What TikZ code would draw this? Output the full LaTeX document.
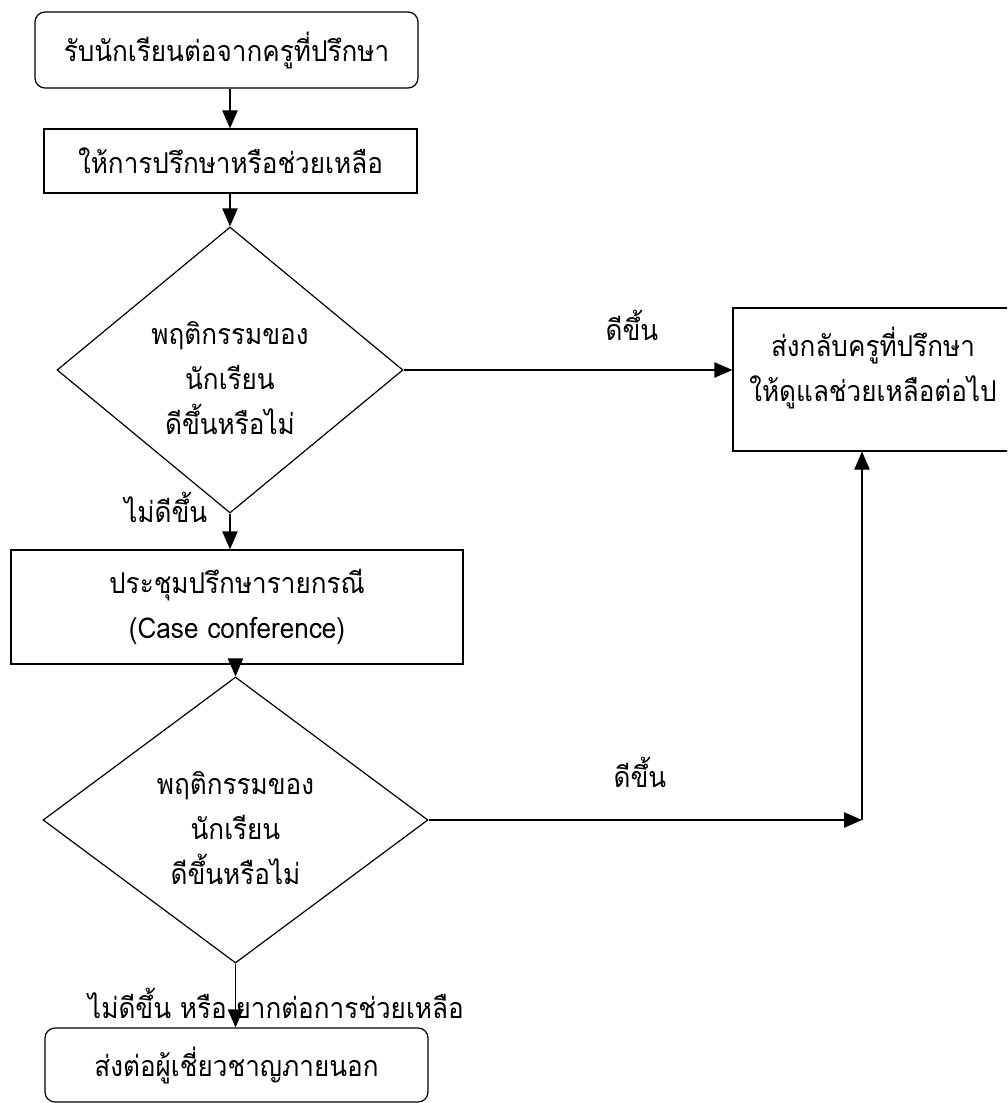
\documentclass[tikz,border=0pt]{standalone}
\usepackage{fontspec}
\newfontfamily\thaifont[Script=Thai,FakeStretch=0.91]{Loma}
\usetikzlibrary{shapes.geometric,arrows.meta}

\begin{document}
\begin{tikzpicture}[x=0.75pt,y=-0.75pt]
    \tikzstyle{every node}=[font={\thaifont\fontsize{21.5}{33.75}\selectfont}]
    \tikzstyle{box}=[draw, line width=0.9pt, align=center]
    \tikzstyle{decision}=[draw, line width=0.9pt, diamond, align=center, inner sep=0pt]
    \tikzstyle{arr}=[line width=0.9pt, -{Triangle[length=13.5pt,width=11.5pt]}]
    \path[use as bounding box, clip] (0,0) rectangle (1007,1103);

    \node[box, rounded corners=7.5pt, minimum width=287.25pt, minimum height=57pt] (start) at (226.5,50) {รับนักเรียนต่อจากครูที่ปรึกษา};
    \node[box, minimum width=279.75pt, minimum height=48pt] (consult) at (230.5,161) {ให้การปรึกษาหรือช่วยเหลือ};
    \node[decision, minimum width=259.5pt, minimum height=212.25pt] (check1) at (230,370) {\rule{0pt}{29pt}พฤติกรรมของ\\นักเรียน\\ดีขึ้นหรือไม่};
    \node[box, minimum width=210pt, minimum height=107.25pt] (back) at (873,379.5) {ส่งกลับครูที่ปรึกษา\\ให้ดูแลช่วยเหลือต่อไป\rule[-23pt]{0pt}{0pt}};
    \node[box, minimum width=339pt, minimum height=85.5pt] (conf) at (237,607) {ประชุมปรึกษารายกรณี\\(Case conference)};
    \node[decision, minimum width=288.75pt, minimum height=205.5pt] (check2) at (235.5,820) {\rule{0pt}{29pt}พฤติกรรมของ\\นักเรียน\\ดีขึ้นหรือไม่};
    \node[box, rounded corners=7.5pt, minimum width=287.25pt, minimum height=55.5pt] (refer) at (236.5,1065) {ส่งต่อผู้เชี่ยวชาญภายนอก};
    \coordinate (turn) at (862,820);

    % labels on the connectors
    \node (better1) at (632,325) {ดีขึ้น};
    \node (better2) at (640,772) {ดีขึ้น};
    \node[anchor=east] (worse1) at (212,507) {ไม่ดีขึ้น};
    \node (worse2) at (276,1003) {ไม่ดีขึ้น หรือ ยากต่อการช่วยเหลือ};

    \draw[arr] (start.south -| 230,0) -- (consult.north -| 230,0);
    \draw[arr] (consult.south -| check1.north) -- (check1.north);
    \draw[arr] (check1.south) -- (check1.south |- conf.north);
    \draw[arr] (check1.east) -- (check1.east -| back.west);
    \draw[arr] (conf.south -| check2.north) -- (check2.north);
    \draw[arr] (check2.east) -- (turn);
    \draw[arr] (turn) -- (turn |- back.south);
    \draw[arr] (check2.south) -- (check2.south |- refer.north);
\end{tikzpicture}
\end{document}
